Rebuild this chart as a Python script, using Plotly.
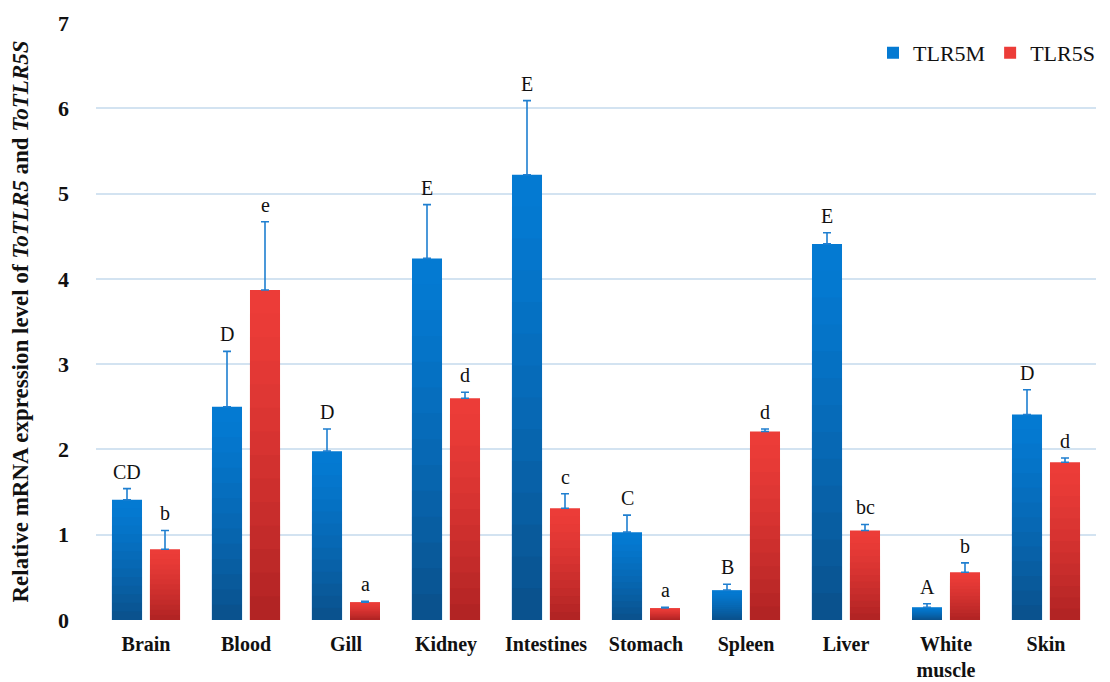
import plotly.graph_objects as go

# Tissue expression of TLR5M / TLR5S (mean and upper SD)
tissues = ["Brain", "Blood", "Gill", "Kidney", "Intestines", "Stomach",
           "Spleen", "Liver", "White<br>muscle", "Skin"]
tlr5m = [1.41, 2.50, 1.98, 4.24, 5.22, 1.03, 0.35, 4.41, 0.15, 2.41]
tlr5m_sd = [0.13, 0.65, 0.26, 0.63, 0.87, 0.20, 0.07, 0.13, 0.04, 0.29]
tlr5s = [0.83, 3.87, 0.21, 2.60, 1.31, 0.14, 2.21, 1.05, 0.56, 1.85]
tlr5s_sd = [0.22, 0.80, 0.01, 0.07, 0.17, 0.01, 0.03, 0.07, 0.11, 0.05]
tlr5m_sig = ["CD", "D", "D", "E", "E", "C", "B", "E", "A", "D"]
tlr5s_sig = ["b", "e", "a", "d", "c", "a", "d", "bc", "b", "d"]
y_ticks = [0, 1, 2, 3, 4, 5, 6, 7]

SERIF = "Liberation Serif, Times New Roman, serif"
ERR_COLOR = "#1f7fd0"
N_LAYERS = 14


def mix(c1, c2, t):
    return "rgb({},{},{})".format(*[round(a + (b - a) * t) for a, b in zip(c1, c2)])


def add_series(fig, name, values, sd, group, top_rgb, bottom_rgb):
    # full-height bar carries the legend entry and the error bars
    fig.add_trace(go.Bar(
        x=tissues, y=values, name=name, offsetgroup=group,
        marker=dict(color=mix(top_rgb, bottom_rgb, 0.0), line=dict(width=0)),
        error_y=dict(type="data", array=sd, arrayminus=[0] * len(sd),
                     symmetric=False, color=ERR_COLOR, thickness=1.6, width=4),
    ))
    # shorter overlays darken the lower part of each bar
    for k in range(1, N_LAYERS):
        frac = 1 - k / N_LAYERS
        t = (k / (N_LAYERS - 1)) ** 1.3
        fig.add_trace(go.Bar(
            x=tissues, y=[v * frac for v in values], offsetgroup=group,
            showlegend=False, hoverinfo="skip",
            marker=dict(color=mix(top_rgb, bottom_rgb, t), line=dict(width=0)),
        ))


fig = go.Figure()
add_series(fig, "TLR5M", tlr5m, tlr5m_sd, "m", (4, 122, 210), (10, 82, 142))
add_series(fig, "TLR5S", tlr5s, tlr5s_sd, "s", (236, 60, 56), (178, 36, 36))

# significance letters above each error bar
for i, cat in enumerate(tissues):
    for vals, sds, sig, shift in ((tlr5m, tlr5m_sd, tlr5m_sig, -19),
                                  (tlr5s, tlr5s_sd, tlr5s_sig, 19)):
        fig.add_annotation(
            x=cat, y=vals[i] + sds[i], text=sig[i], showarrow=False,
            xshift=shift, yshift=4, yanchor="bottom",
            font=dict(family=SERIF, size=20, color="#111111"),
        )

fig.update_layout(
    width=1110, height=682,
    margin=dict(l=96, r=14, t=23, b=62, autoexpand=False),
    paper_bgcolor="white", plot_bgcolor="white",
    barmode="group", bargap=0.24, bargroupgap=0.21,
    font=dict(family=SERIF, color="#111111"),
    showlegend=True,
    legend=dict(orientation="h", x=1.004, xanchor="right", y=0.95, yanchor="middle",
                font=dict(family=SERIF, size=22, color="#111111"),
                itemwidth=30, tracegroupgap=0, bgcolor="rgba(0,0,0,0)"),
)
fig.update_xaxes(
    showline=False, showgrid=False, zeroline=False, ticks="",
    tickfont=dict(family=SERIF, size=20, color="#111111"),
    ticklabelstandoff=10, automargin=False,
    tickvals=tissues, ticktext=[f"<b>{t}</b>" for t in tissues],
)
fig.update_yaxes(
    range=[0, 7], tickvals=y_ticks, ticktext=[f"<b>{v}</b>" for v in y_ticks],
    showgrid=True, gridcolor="#d3e3f1", gridwidth=1.5,
    zeroline=False, showline=False, ticks="", automargin=False,
    tickfont=dict(family=SERIF, size=22, color="#111111"),
    ticklabelstandoff=26,
    title=dict(text="<b>Relative mRNA expression level of <i>ToTLR5</i> and <i>ToTLR5S</i></b>",
               font=dict(family=SERIF, size=23, color="#111111"), standoff=22),
)

fig.write_html("out.html")
